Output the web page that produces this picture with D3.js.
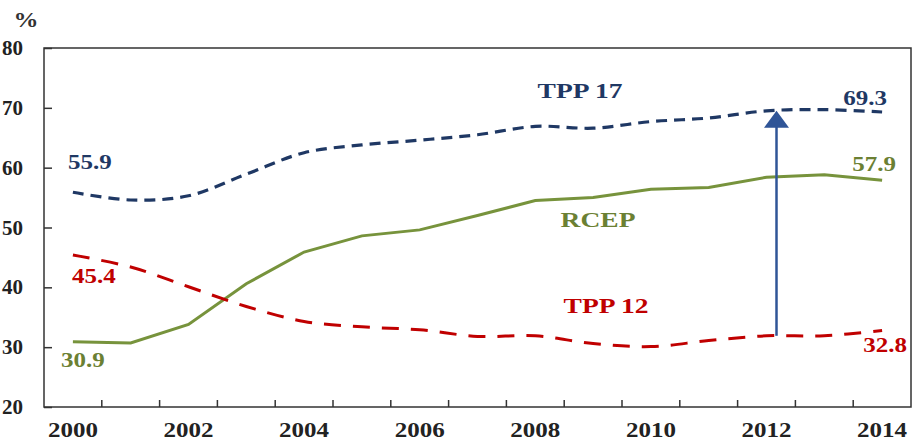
<!DOCTYPE html>
<html><head><meta charset="utf-8">
<script src="https://cdn.jsdelivr.net/npm/d3@7"></script>
<style>
html,body{margin:0;padding:0;background:#fff;overflow:hidden}
svg{display:block}
text{font-family:"Liberation Serif","Times New Roman",serif;font-weight:bold}
</style></head>
<body>
<svg id="c" width="913" height="440"></svg>
<script>
const years = [2000,2001,2002,2003,2004,2005,2006,2007,2008,2009,2010,2011,2012,2013,2014];
const tpp17 = [55.9,54.6,55.3,58.9,62.5,63.8,64.6,65.5,66.9,66.6,67.7,68.3,69.5,69.7,69.3];
const rcep  = [30.9,30.7,33.8,40.6,45.9,48.6,49.6,52.0,54.5,55.0,56.4,56.7,58.4,58.8,57.9];
const tpp12 = [45.4,43.4,40.1,36.8,34.3,33.4,32.9,31.8,31.9,30.6,30.1,31.1,31.9,31.9,32.8];
const yTicks = [20,30,40,50,60,70,80];
const xLabels = [2000,2002,2004,2006,2008,2010,2012,2014];
const seriesNames = ["TPP 17","RCEP","TPP 12"];

const svg = d3.select("#c");
const L=44, R=911, T=48, B=407;
const x = d3.scaleBand().domain(years).range([L,R]).padding(0);
const bw = x.bandwidth();
const cx = d => x(d)+bw/2;
const y = d3.scaleLinear().domain([20,80]).range([B,T]);
const SX = 1.25;

function label(px,py,txt,color,size){
  svg.append("text").attr("transform",`translate(${px},${py}) scale(${SX},1)`)
    .attr("text-anchor","middle").attr("fill",color).attr("font-size",size).text(txt);
}

// frame
svg.append("rect").attr("x",L).attr("y",T).attr("width",R-L).attr("height",B-T)
  .attr("fill","none").attr("stroke","#333").attr("stroke-width",1.5);

// y axis ticks (inward)
const yAxis = d3.axisRight(y).tickValues(yTicks).tickSize(8).tickFormat("");
const ga = svg.append("g").attr("transform",`translate(${L},0)`).call(yAxis);
ga.select(".domain").remove();
ga.selectAll("line").attr("stroke","#333").attr("stroke-width",1.5);
yTicks.forEach(v=>{
  svg.append("text").attr("transform",`translate(23,${y(v)+7}) scale(1.05,1)`)
    .attr("text-anchor","end").attr("fill","#222").attr("font-size",20).text(v);
});
label(26,27,"%","#333",20);

// x ticks at band boundaries (inward)
years.slice(1).forEach(d=>{
  svg.append("line").attr("x1",x(d)).attr("x2",x(d)).attr("y1",B).attr("y2",B-7)
    .attr("stroke","#333").attr("stroke-width",1.5);
});
xLabels.forEach(d=>{
  label(cx(d),437,d,"#222",20);
});

const sm = d3.line().x((d,i)=>cx(years[i])).y(d=>y(d)).curve(d3.curveCatmullRom.alpha(0.5));
const lin = d3.line().x((d,i)=>cx(years[i])).y(d=>y(d));

svg.append("path").attr("d",lin(rcep)).attr("fill","none").attr("stroke","#77933C").attr("stroke-width",3);
svg.append("path").attr("d",sm(tpp12)).attr("fill","none").attr("stroke","#C00000").attr("stroke-width",3)
  .attr("stroke-dasharray","17,12");
svg.append("path").attr("d",sm(tpp17)).attr("fill","none").attr("stroke","#1F3864").attr("stroke-width",3.2)
  .attr("stroke-dasharray","11,7");

// arrow
const ai = years.indexOf(2012);
const ax = cx(2012)+10;
const yTip = y(tpp17[ai]), yBase = y(tpp12[ai]);
svg.append("line").attr("x1",ax).attr("x2",ax).attr("y1",yBase).attr("y2",yTip+14)
  .attr("stroke","#2F5597").attr("stroke-width",2.5);
svg.append("path").attr("d",`M${ax},${yTip} L${ax-12.5},${yTip+17} L${ax+12.5},${yTip+17} Z`).attr("fill","#2F5597");

// data labels
const n = years.length-1;
label(cx(2000)+17, y(tpp17[0])-23, tpp17[0].toFixed(1), "#1F3864", 20);
label(cx(2000)+21, y(tpp12[0])+28, tpp12[0].toFixed(1), "#C00000", 20);
label(cx(2000)+10, y(rcep[0])+25, rcep[0].toFixed(1), "#6B8033", 20);
label(cx(2014)-17, y(tpp17[n])-7, tpp17[n].toFixed(1), "#1F3864", 20);
label(cx(2014)-8, y(rcep[n])-9, rcep[n].toFixed(1), "#6B8033", 20);
label(cx(2014)+3, y(tpp12[n])+22, tpp12[n].toFixed(1), "#C00000", 20);

// series names
label(580, 98, seriesNames[0], "#1F3864", 22);
label(598, 227, seriesNames[1], "#6B8033", 22);
label(606, 313, seriesNames[2], "#C00000", 22);
</script>
</body></html>
